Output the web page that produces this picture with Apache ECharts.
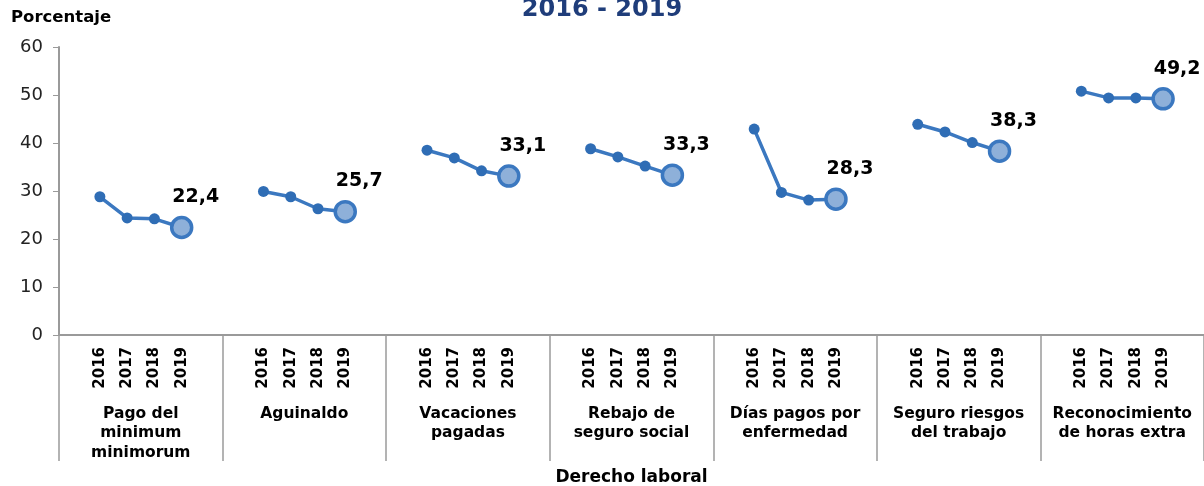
<!DOCTYPE html>
<html>
<head>
<meta charset="utf-8">
<script src="https://cdn.jsdelivr.net/npm/echarts@6/dist/echarts.min.js"></script>
<style>
  html, body { margin: 0; padding: 0; background: #fff; }
  #main { width: 1204px; height: 486px; }
</style>
</head>
<body>
<div id="main"></div>
<script>
// datos
const groups = [
  'Pago del\nminimum\nminimorum',
  'Aguinaldo',
  'Vacaciones\npagadas',
  'Rebajo de\nseguro social',
  'Días pagos por\nenfermedad',
  'Seguro riesgos\ndel trabajo',
  'Reconocimiento\nde horas extra'
]
const years = ['2016', '2017', '2018', '2019']
const pagoMinimum = [28.8, 24.4, 24.2, 22.4]
const aguinaldo = [29.9, 28.8, 26.3, 25.7]
const vacaciones = [38.5, 36.9, 34.2, 33.1]
const rebajoSeguro = [38.8, 37.1, 35.2, 33.3]
const diasEnfermedad = [42.9, 29.7, 28.1, 28.3]
const seguroRiesgos = [43.9, 42.3, 40.1, 38.3]
const horasExtra = [50.8, 49.4, 49.4, 49.2]
const yTicks = [0, 10, 20, 30, 40, 50, 60]

const groupValues = [pagoMinimum, aguinaldo, vacaciones, rebajoSeguro, diasEnfermedad, seguroRiesgos, horasExtra]
const slots = 6 // hueco, 4 años, hueco

const lineColor = '#3b78c0'
const font = 'DejaVu Sans, Verdana, sans-serif'

// categorías del eje x (con huecos entre grupos)
const cats = []
groups.forEach(() => {
  cats.push('')
  years.forEach(y => cats.push(y))
  cats.push('')
})

const series = groupValues.map((vals, g) => {
  const data = cats.map(() => null)
  vals.forEach((v, i) => {
    const last = i === vals.length - 1
    data[g * slots + 1 + i] = last
      ? {
          value: v,
          symbolSize: 20,
          itemStyle: { color: '#8eb0d9', borderColor: lineColor, borderWidth: 3.5 },
          label: {
            show: true,
            position: 'top',
            offset: [14, -4],
            formatter: p => p.value.toFixed(1).replace('.', ','),
            color: '#000',
            fontWeight: 'bold',
            fontSize: 19,
            fontFamily: font
          }
        }
      : v
  })
  return {
    name: groups[g],
    type: 'line',
    data: data,
    symbol: 'circle',
    symbolSize: 11,
    showSymbol: true,
    connectNulls: false,
    lineStyle: { color: lineColor, width: 3.5 },
    itemStyle: { color: '#2f6db5' },
    z: 3
  }
})

const myChart = echarts.init(document.getElementById('main'))
const option = {
  animation: false,
  title: [
    {
      text: '2016 - 2019',
      left: 'center',
      top: -7,
      textStyle: { color: '#1f3d7a', fontSize: 24, fontWeight: 'bold', fontFamily: font }
    },
    {
      text: 'Porcentaje',
      left: 6,
      top: 4,
      textStyle: { color: '#000', fontSize: 16.5, fontWeight: 'bold', fontFamily: font }
    }
  ],
  grid: { left: 59, right: 0, top: 47, bottom: 151, containLabel: false, outerBoundsMode: 'none' },
  xAxis: [
    {
      type: 'category',
      data: cats,
      boundaryGap: true,
      axisLine: { show: true, lineStyle: { color: '#9a9a9a', width: 2 } },
      axisTick: { show: false },
      axisLabel: {
        interval: 0,
        rotate: 90,
        margin: 12,
        color: '#000',
        fontWeight: 'bold',
        fontSize: 15,
        fontFamily: font
      }
    },
    {
      type: 'category',
      data: groups,
      position: 'bottom',
      offset: 0,
      boundaryGap: true,
      axisLine: { show: false },
      axisTick: { show: true, length: 126, lineStyle: { color: '#9a9a9a', width: 1.5 } },
      axisLabel: {
        interval: 0,
        margin: 69,
        color: '#000',
        fontWeight: 'bold',
        fontSize: 15.5,
        lineHeight: 19.5,
        fontFamily: font
      },
      name: 'Derecho laboral',
      nameLocation: 'middle',
      nameGap: 134,
      nameTextStyle: { color: '#000', fontWeight: 'bold', fontSize: 17, fontFamily: font }
    }
  ],
  yAxis: {
    type: 'value',
    min: yTicks[0],
    max: yTicks[yTicks.length - 1],
    interval: 10,
    axisLine: { show: true, lineStyle: { color: '#9a9a9a', width: 2 } },
    axisTick: { show: true, length: 6, lineStyle: { color: '#9a9a9a' } },
    splitLine: { show: false },
    axisLabel: { color: '#222', fontSize: 18, margin: 16, fontFamily: font }
  },
  series: series
}
option && myChart.setOption(option)
</script>
</body>
</html>
